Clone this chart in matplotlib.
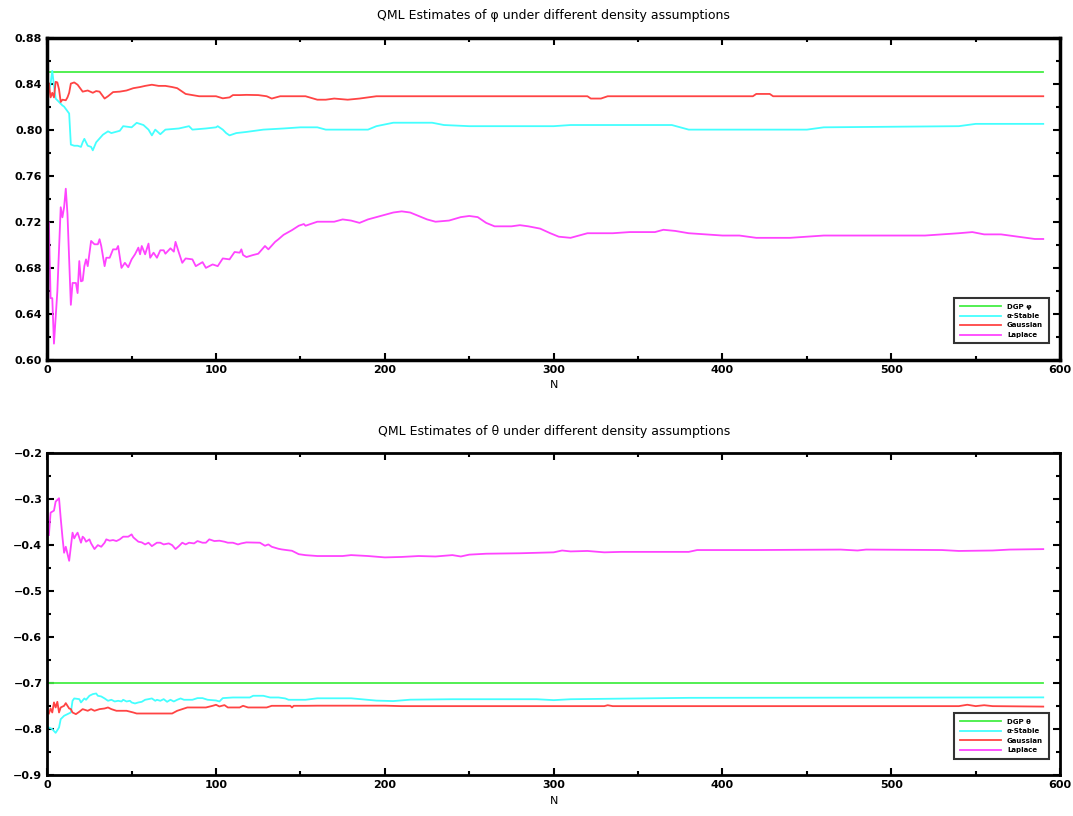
# QML estimates plot: phi and theta under different density assumptions
import matplotlib
matplotlib.use("Agg")
import matplotlib.pyplot as plt
from matplotlib.ticker import MultipleLocator, FuncFormatter

# ---- data (N, estimate) ----
dgp_phi = 0.85
dgp_theta = -0.7
n_max = 590

# top panel: phi
phi_stable_n = [1, 2, 3, 4, 5, 7, 9, 10, 12, 13, 14, 16, 18, 20, 21, 22, 24, 26, 27, 29,
                33, 36, 38, 43, 45, 50, 53, 57, 60, 62, 64, 67, 70, 78, 84, 86, 94, 100,
                101, 104, 106, 108, 112, 118, 128, 140, 150, 160, 165, 190, 195, 205, 228,
                235, 250, 300, 310, 370, 380, 450, 460, 540, 550, 590]
phi_stable = [0.834, 0.840, 0.851, 0.838, 0.827, 0.824, 0.821, 0.820, 0.816, 0.814, 0.787,
              0.786, 0.786, 0.785, 0.789, 0.792, 0.786, 0.785, 0.782, 0.789, 0.7956, 0.7985,
              0.797, 0.799, 0.803, 0.802, 0.8059, 0.804, 0.800, 0.795, 0.800, 0.796, 0.800,
              0.801, 0.803, 0.800, 0.801, 0.802, 0.803, 0.800, 0.797, 0.795, 0.797, 0.798,
              0.800, 0.801, 0.802, 0.802, 0.800, 0.800, 0.803, 0.806, 0.806, 0.804, 0.803,
              0.803, 0.804, 0.804, 0.800, 0.800, 0.802, 0.803, 0.805, 0.805]

phi_gauss_n = [1, 2, 3, 4, 5, 6, 7, 8, 9, 11, 12, 13, 14, 16, 18, 21, 24, 27, 29, 31, 34, 36,
               39, 43, 47, 51, 55, 58, 62, 66, 70, 74, 77, 80, 82, 86, 90, 94, 100, 104, 108,
               110, 114, 118, 125, 130, 133, 138, 145, 153, 160, 165, 170, 178, 185, 195,
               250, 290, 320, 322, 328, 332, 418, 420, 428, 430, 590]
phi_gauss = [0.840, 0.828, 0.832, 0.828, 0.8415, 0.841, 0.835, 0.824, 0.826, 0.8255, 0.828,
             0.832, 0.840, 0.841, 0.839, 0.833, 0.834, 0.832, 0.8335, 0.833, 0.827, 0.829,
             0.8326, 0.833, 0.834, 0.836, 0.837, 0.838, 0.839, 0.838, 0.838, 0.837, 0.836,
             0.833, 0.831, 0.830, 0.829, 0.829, 0.829, 0.8272, 0.828, 0.830, 0.830, 0.8302,
             0.830, 0.829, 0.827, 0.829, 0.829, 0.829, 0.826, 0.826, 0.827, 0.826, 0.827,
             0.829, 0.829, 0.829, 0.829, 0.827, 0.827, 0.829, 0.829, 0.831, 0.831, 0.829,
             0.829]

phi_laplace_n = [1, 2, 3, 4, 6, 8, 9, 10, 11, 12, 14, 15, 17, 18, 19, 20, 21, 22, 23, 24, 26,
                 28, 30, 31, 32, 34, 35, 37, 39, 41, 42, 44, 46, 48, 50, 52, 54, 55, 56, 58,
                 60, 61, 63, 65, 67, 69, 70, 73, 75, 76, 78, 80, 82, 86, 88, 92, 94, 98, 101,
                 104, 108, 111, 114, 115, 116, 118, 122, 125, 129, 131, 135, 137, 140, 145,
                 149, 152, 153, 160, 170, 175, 180, 185, 190, 195, 200, 205, 210, 215, 220,
                 225, 230, 238, 245, 250, 255, 260, 265, 275, 280, 285, 292, 298, 303, 310,
                 315, 320, 335, 345, 360, 365, 372, 380, 390, 400, 410, 420, 440, 450, 460,
                 480, 500, 520, 530, 540, 548, 555, 565, 575, 585, 590]
phi_laplace = [0.7194, 0.6536, 0.6536, 0.6141, 0.6595, 0.7326, 0.7238, 0.7326, 0.7487, 0.7267,
               0.6478, 0.6668, 0.6668, 0.658, 0.6858, 0.6682, 0.6688, 0.6814, 0.6873, 0.6814,
               0.7033, 0.7004, 0.7004, 0.7048, 0.6989, 0.6814, 0.6887, 0.6887, 0.696, 0.696,
               0.6989, 0.6799, 0.6843, 0.6805, 0.6873, 0.6917, 0.6975, 0.6917, 0.6989, 0.6917,
               0.701, 0.6887, 0.6931, 0.6887, 0.6952, 0.6952, 0.6922, 0.6969, 0.694, 0.7025,
               0.6931, 0.6843, 0.6881, 0.6873, 0.6814, 0.6849, 0.6799, 0.6829, 0.6814, 0.6881,
               0.6873, 0.6937, 0.6931, 0.696, 0.6911, 0.6893, 0.6911, 0.6922, 0.6989, 0.696,
               0.7025, 0.7048, 0.7086, 0.7127, 0.7165, 0.718, 0.7165, 0.720, 0.720, 0.722,
               0.721, 0.719, 0.722, 0.724, 0.726, 0.728, 0.729, 0.728, 0.725, 0.722, 0.720,
               0.721, 0.724, 0.725, 0.724, 0.719, 0.716, 0.716, 0.717, 0.716, 0.714, 0.710,
               0.707, 0.706, 0.708, 0.710, 0.710, 0.711, 0.711, 0.713, 0.712, 0.710, 0.709,
               0.708, 0.708, 0.706, 0.706, 0.707, 0.708, 0.708, 0.708, 0.708, 0.709, 0.710,
               0.711, 0.709, 0.709, 0.707, 0.705, 0.705]

# bottom panel: theta
theta_stable_n = [1, 3, 5, 7, 8, 10, 12, 14, 15, 16, 19, 20, 22, 23, 25, 27, 29, 30, 32, 34,
                  36, 38, 40, 42, 44, 45, 47, 49, 50, 52, 54, 56, 58, 60, 62, 64, 65, 67, 69,
                  71, 73, 75, 77, 79, 81, 86, 89, 92, 95, 100, 102, 104, 110, 120, 122, 128,
                  132, 137, 141, 143, 153, 160, 180, 195, 205, 215, 240, 290, 300, 310, 380,
                  590]
theta_stable = [-0.7964, -0.800, -0.808, -0.7964, -0.7783, -0.771, -0.7674, -0.7638, -0.7384,
                -0.7333, -0.7348, -0.742, -0.7333, -0.7362, -0.7275, -0.7239, -0.7225, -0.7275,
                -0.729, -0.7333, -0.7384, -0.7362, -0.7399, -0.7384, -0.7399, -0.7362, -0.7399,
                -0.7384, -0.742, -0.7442, -0.742, -0.7406, -0.7362, -0.7348, -0.7333, -0.7384,
                -0.7362, -0.7384, -0.7348, -0.7406, -0.7362, -0.7399, -0.7362, -0.7333, -0.7362,
                -0.7362, -0.7326, -0.7326, -0.7362, -0.7377, -0.7399, -0.7326, -0.7312, -0.7312,
                -0.7275, -0.7275, -0.7312, -0.7312, -0.7333, -0.7362, -0.7362, -0.733, -0.733,
                -0.738, -0.739, -0.736, -0.735, -0.735, -0.737, -0.735, -0.732, -0.731]

theta_gauss_n = [1, 2, 3, 4, 5, 6, 7, 8, 10, 11, 13, 14, 15, 17, 19, 21, 24, 26, 28, 31, 34,
                 36, 38, 41, 47, 51, 53, 74, 77, 80, 83, 94, 98, 100, 102, 105, 107, 114, 116,
                 119, 130, 133, 144, 145, 146, 153, 160, 200, 210, 330, 332, 335, 540, 545,
                 550, 555, 560, 590]
theta_gauss = [-0.766, -0.7551, -0.7638, -0.742, -0.7529, -0.7406, -0.7638, -0.7529, -0.7493,
               -0.7435, -0.7551, -0.7565, -0.7638, -0.7674, -0.7623, -0.7565, -0.7601, -0.7565,
               -0.7601, -0.7565, -0.7551, -0.7529, -0.7565, -0.7601, -0.7601, -0.7638, -0.766,
               -0.766, -0.7601, -0.7565, -0.7529, -0.7529, -0.7493, -0.7471, -0.7507, -0.7478,
               -0.7529, -0.7529, -0.7493, -0.7529, -0.7529, -0.7493, -0.7493, -0.7529, -0.7493,
               -0.7493, -0.749, -0.749, -0.750, -0.750, -0.748, -0.750, -0.750, -0.747, -0.750,
               -0.748, -0.750, -0.751]

theta_laplace_n = [1, 2, 4, 5, 7, 8, 9, 10, 11, 13, 14, 15, 16, 17, 18, 20, 21, 22, 23, 25, 26,
                   28, 30, 32, 34, 35, 37, 39, 41, 43, 45, 48, 50, 51, 54, 56, 58, 60, 62, 65,
                   67, 69, 72, 74, 76, 78, 80, 82, 84, 87, 89, 92, 94, 96, 99, 102, 105, 107,
                   110, 113, 115, 118, 126, 129, 131, 133, 135, 137, 139, 142, 145, 149, 153,
                   160, 175, 180, 190, 200, 210, 220, 230, 240, 245, 250, 260, 280, 300, 305,
                   310, 320, 330, 340, 380, 385, 420, 470, 480, 485, 530, 540, 560, 570, 590]
theta_laplace = [-0.3784, -0.3298, -0.3254, -0.3058, -0.2985, -0.3421, -0.382, -0.4169, -0.4039,
                 -0.4344, -0.4039, -0.3733, -0.3857, -0.3785, -0.3733, -0.3951, -0.382, -0.3857,
                 -0.3929, -0.3878, -0.3966, -0.4089, -0.4003, -0.4039, -0.3951, -0.3878, -0.3907,
                 -0.3893, -0.3915, -0.3878, -0.382, -0.382, -0.377, -0.3835, -0.3929, -0.3944,
                 -0.3988, -0.3951, -0.4025, -0.3951, -0.3951, -0.3988, -0.3966, -0.4003, -0.4089,
                 -0.4025, -0.3951, -0.3988, -0.3951, -0.3966, -0.3915, -0.3951, -0.3951, -0.3878,
                 -0.3915, -0.3907, -0.3929, -0.3951, -0.3951, -0.3988, -0.3966, -0.3944, -0.3951,
                 -0.4017, -0.3988, -0.4039, -0.4061, -0.4083, -0.4097, -0.4112, -0.4126, -0.420,
                 -0.4221, -0.424, -0.424, -0.422, -0.424, -0.427, -0.426, -0.424, -0.425, -0.422,
                 -0.425, -0.421, -0.419, -0.418, -0.416, -0.412, -0.414, -0.413, -0.416, -0.415,
                 -0.415, -0.411, -0.411, -0.410, -0.412, -0.410, -0.411, -0.413, -0.412, -0.410,
                 -0.409]

labels_top = ["DGP φ", "α-Stable", "Gaussian", "Laplace"]
labels_bottom = ["DGP θ", "α-Stable", "Gaussian", "Laplace"]
colors = ["#44ee44", "#44ffff", "#ff4444", "#ff44ff"]


def style_axes(ax, spine_w):
    for s in ax.spines.values():
        s.set_linewidth(spine_w)
    ax.tick_params(which="both", direction="in", top=True, right=True, width=1.5)
    ax.tick_params(which="major", length=5, labelsize=8)
    ax.tick_params(which="minor", length=3)
    for lab in ax.get_xticklabels() + ax.get_yticklabels():
        lab.set_fontweight("bold")


def main():
    fig = plt.figure(figsize=(10.73, 8.16), dpi=100)
    ax1 = fig.add_axes([0.044, 0.559, 0.944, 0.395])
    ax2 = fig.add_axes([0.044, 0.050, 0.944, 0.395])

    # 1. PHI PANEL
    ax1.plot([0, n_max], [dgp_phi, dgp_phi], color=colors[0], lw=1.3, label=labels_top[0])
    ax1.plot(phi_stable_n, phi_stable, color=colors[1], lw=1.3, label=labels_top[1])
    ax1.plot(phi_gauss_n, phi_gauss, color=colors[2], lw=1.3, label=labels_top[2])
    ax1.plot(phi_laplace_n, phi_laplace, color=colors[3], lw=1.3, label=labels_top[3])
    ax1.set_xlim(0, 600)
    ax1.set_ylim(0.60, 0.88)
    ax1.xaxis.set_major_locator(MultipleLocator(100))
    ax1.xaxis.set_minor_locator(MultipleLocator(50))
    ax1.yaxis.set_major_locator(MultipleLocator(0.04))
    ax1.yaxis.set_minor_locator(MultipleLocator(0.02))
    ax1.yaxis.set_major_formatter(FuncFormatter(lambda v, p: f"{v:.2f}"))
    ax1.set_title("QML Estimates of φ under different density assumptions", fontsize=9, pad=13)
    ax1.set_xlabel("N", fontsize=8, labelpad=4)
    style_axes(ax1, 2.5)

    # 2. THETA PANEL
    ax2.plot([0, n_max], [dgp_theta, dgp_theta], color=colors[0], lw=1.3, label=labels_bottom[0])
    ax2.plot(theta_stable_n, theta_stable, color=colors[1], lw=1.3, label=labels_bottom[1])
    ax2.plot(theta_gauss_n, theta_gauss, color=colors[2], lw=1.3, label=labels_bottom[2])
    ax2.plot(theta_laplace_n, theta_laplace, color=colors[3], lw=1.3, label=labels_bottom[3])
    ax2.set_xlim(0, 600)
    ax2.set_ylim(-0.9, -0.2)
    ax2.xaxis.set_major_locator(MultipleLocator(100))
    ax2.xaxis.set_minor_locator(MultipleLocator(50))
    ax2.yaxis.set_major_locator(MultipleLocator(0.1))
    ax2.yaxis.set_minor_locator(MultipleLocator(0.05))
    ax2.yaxis.set_major_formatter(FuncFormatter(lambda v, p: f"{v:.1f}".replace("-", "\u2212")))
    ax2.set_title("QML Estimates of θ under different density assumptions", fontsize=9, pad=13)
    ax2.set_xlabel("N", fontsize=8, labelpad=4)
    style_axes(ax2, 2)

    # 3. LEGENDS
    for ax in (ax1, ax2):
        leg = ax.legend(loc="lower right", fontsize=5, handlelength=6, frameon=True,
                        fancybox=False, edgecolor="black", borderpad=0.8,
                        labelspacing=0.5, bbox_to_anchor=(0.992, 0.04))
        leg.get_frame().set_linewidth(1.5)
        for t in leg.get_texts():
            t.set_fontweight("bold")

    fig.savefig("out.png", dpi=100)


if __name__ == "__main__":
    main()
